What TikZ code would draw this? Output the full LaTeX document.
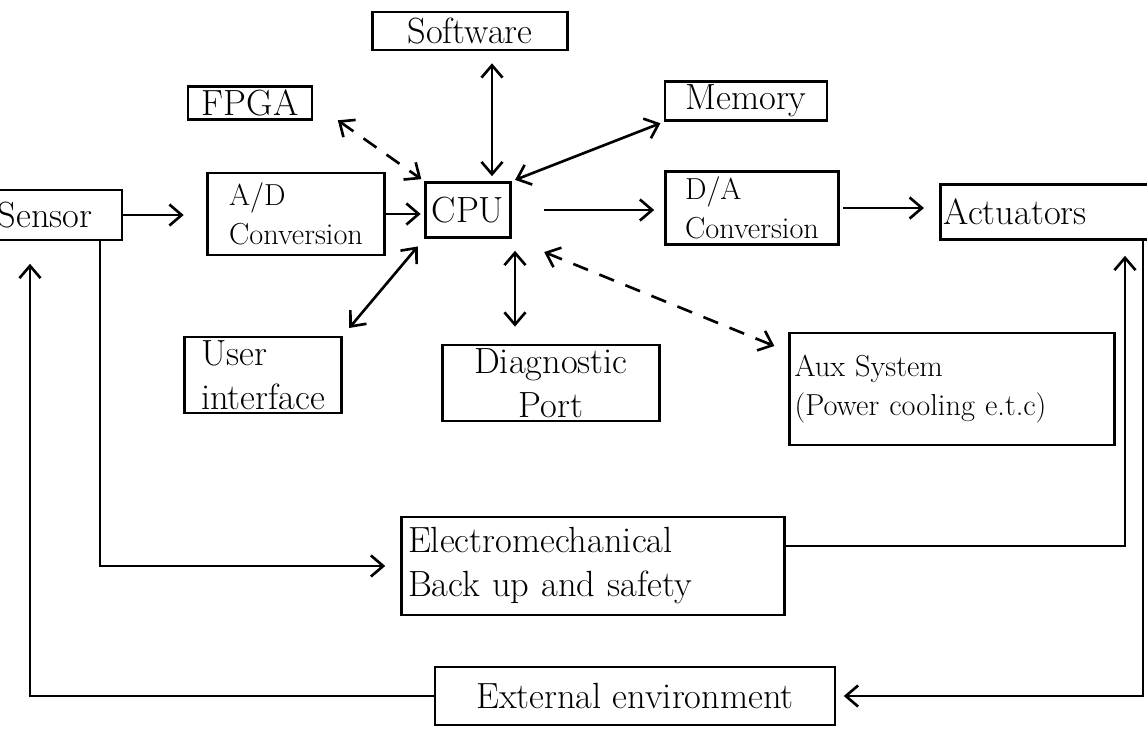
\documentclass[tikz,border=0pt]{standalone}
\usetikzlibrary{arrows.meta}
\begin{document}
\begin{tikzpicture}[x=0.02cm,y=-0.02cm,>={Straight Barb[length=7pt,width=12pt]},line width=1.5pt,
        blk/.style={draw,inner sep=2pt,font=\huge,align=left},
        smallblk/.style={blk,font=\LARGE},
        dashlink/.style={dashed,dash pattern=on 9pt off 7pt}]
            \useasboundingbox (0,0) rectangle (1147,731);
            \clip (0,0) rectangle (1147,731);

            % top row
            \node[blk,minimum width=3.9cm,minimum height=0.76cm] (software) at (470,31) {Software};
            \node[blk,minimum width=2.48cm,minimum height=0.62cm] (fpga) at (250,103) {FPGA};
            \node[blk,minimum width=3.24cm,minimum height=0.66cm] (memory) at (746,101) {Memory};

            % main chain
            \node[blk,minimum width=3.08cm,minimum height=1cm] (sensor) at (45,215) {Sensor};
            \node[smallblk,minimum width=3.54cm,minimum height=1.64cm] (adconv) at (296,214) {A/D\\Conversion};
            \node[blk,minimum width=1.7cm,minimum height=1.1cm,align=center] (cpu) at (468,210) {CPU};
            \node[smallblk,minimum width=3.46cm,minimum height=1.46cm] (daconv) at (752,208) {D/A\\Conversion};
            \node[blk,text width=4.45cm,minimum height=1.1cm] (actuators) at (1055,212) {Actuators};

            % lower row
            \node[blk,minimum width=3.14cm,minimum height=1.4cm] (userif) at (263,375) {User\\interface};
            \node[blk,minimum width=4.34cm,minimum height=1.5cm,align=center] (diagport) at (551,383) {Diagnostic\\Port};
            \node[smallblk,text width=6.3cm,minimum width=6.5cm,minimum height=2.24cm] (auxsys) at (952,389) {Aux System\\(Power cooling e.t.c)};
            \node[blk,text width=7.4cm,minimum width=7.66cm,minimum height=1.96cm] (backup) at (593,566) {Electromechanical\\Back up and safety};
            \node[blk,minimum width=8cm,minimum height=1.16cm] (extenv) at (635,696) {External environment};

            % signal path
            \draw[->,shorten >=0.45cm] (sensor.east) -- (sensor.east -| adconv.west);
            \draw[->,shorten >=2pt] (adconv.east) -- (adconv.east -| cpu.west);
            \draw[->,shorten <=0.65cm,shorten >=0.2cm] (cpu.east) -- (cpu.east -| daconv.west);
            \draw[->,shorten <=2pt,shorten >=0.3cm] (daconv.east) -- (daconv.east -| actuators.west);

            % links to the cpu
            \draw[<->,dashlink,shorten <=0.6cm,shorten >=2pt] (fpga.east) -- (cpu.north west);
            \draw[<->,shorten <=0.24cm,shorten >=0.1cm] ([xshift=0.44cm]software.south) -- ([xshift=0.44cm]software.south |- cpu.north);
            \draw[<->,shorten <=2pt,shorten >=2pt] (memory.south west) -- (cpu.north east);
            \draw[<->,shorten <=0.2cm,shorten >=0.2cm] (userif.north east) -- (cpu.south west);
            \draw[<->,shorten <=0.24cm,shorten >=0.34cm] ([xshift=0.94cm]cpu.south) -- ([xshift=0.94cm]cpu.south |- diagport.north);
            \draw[<->,dashlink,shorten <=0.7cm,shorten >=0.3cm] (cpu.south east) -- ([yshift=-0.4cm]auxsys.north west);

            % backup and feedback loops
            \draw[->,shorten >=0.3cm] ([xshift=1.1cm]sensor.south) |- (backup.west);
            \draw[->,shorten >=0.3cm] ([yshift=0.4cm]backup.east) -| ([xshift=1.4cm]actuators.south);
            \draw[->,shorten >=0.15cm] ([xshift=1.76cm]actuators.south) |- (extenv.east);
            \draw[->,shorten >=0.45cm] (extenv.west) -| ([xshift=-0.3cm]sensor.south);
        \end{tikzpicture}
\end{document}
